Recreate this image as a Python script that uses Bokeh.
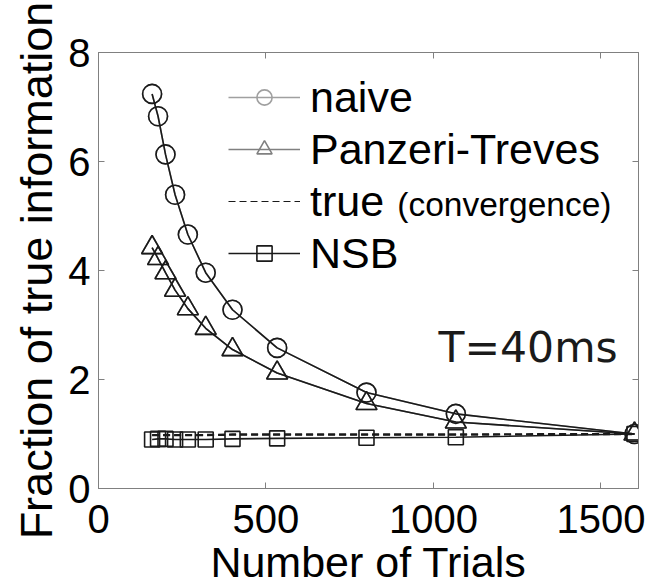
from bokeh.plotting import figure
from bokeh.models import Range1d, LinearAxis, Legend, LegendItem, Label, FixedTicker
from bokeh.embed import file_html
from bokeh.resources import INLINE

# ---- data ----
trials = [160, 177.8, 200, 228.6, 266.7, 320, 400, 533.3, 800, 1066.7, 1600]
naive = [7.24, 6.83, 6.13, 5.39, 4.66, 3.96, 3.28, 2.58, 1.76, 1.37, 1.0]
panzeri_treves = [4.42, 4.22, 3.96, 3.64, 3.30, 2.94, 2.55, 2.12, 1.56, 1.22, 1.0]
true_conv = [0.98, 0.98, 0.98, 0.98, 0.98, 0.98, 0.99, 0.99, 0.99, 0.99, 1.0]
nsb = [0.90, 0.91, 0.91, 0.90, 0.90, 0.90, 0.91, 0.92, 0.93, 0.94, 1.0]
x_ticks = [0, 500, 1000, 1500]
y_ticks = [0, 2, 4, 6, 8]

FONT = "Liberation Sans"
INK = "#1a1a1a"
AXC = "#808080"

p = figure(frame_width=540, frame_height=436,
           min_border_left=98, min_border_right=8, min_border_top=52, min_border_bottom=92,
           x_range=Range1d(0, 1612), y_range=Range1d(0, 8),
           output_backend="svg", toolbar_location=None)
p.grid.visible = False
p.outline_line_color = AXC
p.background_fill_color = "white"
p.border_fill_color = "white"

for ax in (p.xaxis[0], p.yaxis[0]):
    ax.axis_line_color = AXC
    ax.major_tick_line_color = AXC
    ax.major_tick_in = 6
    ax.major_tick_out = 0
    ax.minor_tick_line_color = None
    ax.major_label_text_font = FONT
    ax.major_label_text_font_size = "40px"
    ax.major_label_text_color = "black"
    ax.axis_label_text_font = FONT
    ax.axis_label_text_font_style = "normal"
    ax.axis_label_text_color = "black"

p.xaxis[0].ticker = FixedTicker(ticks=x_ticks)
p.yaxis[0].ticker = FixedTicker(ticks=y_ticks)
p.xaxis[0].axis_label = "Number of Trials"
p.yaxis[0].axis_label = "Fraction of true information"
p.xaxis[0].axis_label_text_font_size = "43px"
p.yaxis[0].axis_label_text_font_size = "45px"
p.xaxis[0].major_label_standoff = 16
p.xaxis[0].axis_label_standoff = 2
p.yaxis[0].major_label_standoff = 8
p.yaxis[0].axis_label_standoff = 3

# mirrored ticks on top and right (no labels)
top = LinearAxis(ticker=FixedTicker(ticks=x_ticks),
                 major_label_overrides={t: "" for t in x_ticks},
                 axis_line_color=AXC, major_tick_line_color=AXC, major_tick_in=6,
                 major_tick_out=0, minor_tick_line_color=None, major_label_standoff=0)
right = LinearAxis(ticker=FixedTicker(ticks=y_ticks),
                   major_label_overrides={t: "" for t in y_ticks},
                   axis_line_color=AXC, major_tick_line_color=AXC, major_tick_in=6,
                   major_tick_out=0, minor_tick_line_color=None, major_label_standoff=0)
p.add_layout(top, "above")
p.add_layout(right, "right")

# ---- legend proxies (grey styling, drawn underneath the black series) ----
ln_n = p.line(trials, naive, line_color="#a0a0a0", line_width=1.6)
mk_n = p.scatter(trials, naive, marker="circle", size=19, fill_color=None, line_color="#a0a0a0", line_width=1.6)
ln_p = p.line(trials, panzeri_treves, line_color="#808080", line_width=1.6)
mk_p = p.scatter(trials, panzeri_treves, marker="triangle", size=21, fill_color=None, line_color="#808080", line_width=1.6)
ln_t = p.line(trials, true_conv, line_color=INK, line_width=1.2, line_dash="7 4")

# ---- data series ----
p.line(trials, naive, line_color=INK, line_width=1.6)
p.scatter(trials, naive, marker="circle", size=19, fill_color=None, line_color=INK, line_width=1.6)

p.line(trials, panzeri_treves, line_color=INK, line_width=1.6)
p.scatter(trials, panzeri_treves, marker="triangle", size=21, fill_color=None, line_color=INK, line_width=1.6)

p.line(trials, true_conv, line_color=INK, line_width=2.4, line_dash="7 4")

ln_s = p.line(trials, nsb, line_color=INK, line_width=1.6)
mk_s = p.scatter(trials, nsb, marker="square", size=15, fill_color=None, line_color=INK, line_width=1.6)

legend = Legend(items=[
    LegendItem(label="naive", renderers=[ln_n, mk_n]),
    LegendItem(label="Panzeri-Treves", renderers=[ln_p, mk_p]),
    LegendItem(label="true", renderers=[ln_t]),
    LegendItem(label="NSB", renderers=[ln_s, mk_s]),
], location=(130, 209), orientation="vertical",
    label_text_font=FONT, label_text_font_size="43px", label_text_color="black",
    label_height=52, glyph_height=38, glyph_width=72, label_standoff=10,
    spacing=0, padding=0, margin=0, border_line_color=None, background_fill_alpha=0)
p.add_layout(legend, "center")

p.add_layout(Label(x=892, y=5.21, text="(convergence)", text_font=FONT,
                   text_font_size="33.5px", text_color="black", text_baseline="alphabetic"))
p.add_layout(Label(x=1015, y=2.59, text="T=40ms", text_font="DejaVu Sans",
                   text_font_size="42.5px", text_color="#1a1a1a", text_baseline="alphabetic"))

open("out.html", "w").write(file_html(p, INLINE))
